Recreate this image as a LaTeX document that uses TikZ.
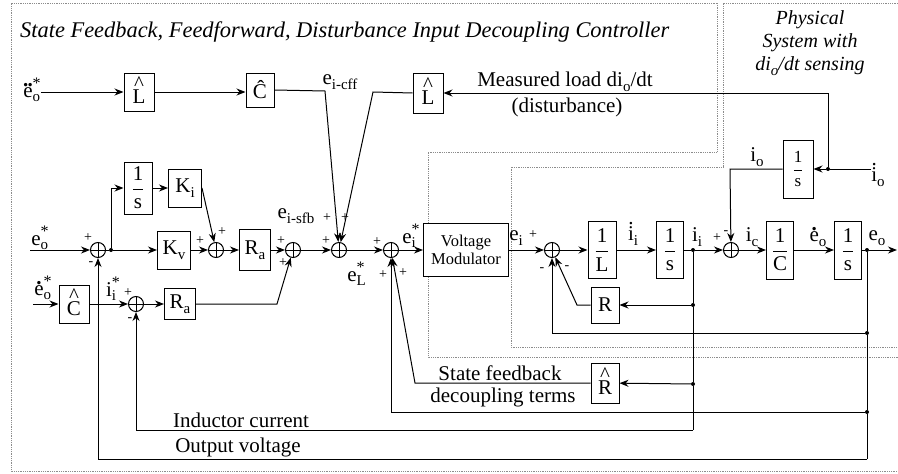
\documentclass[tikz,border=0pt]{standalone}
\usepackage{fontspec}
\setmainfont{Liberation Serif}
\usetikzlibrary{arrows.meta,calc}
\newcommand\sub[1]{\raisebox{-0.22em}{\fontsize{15}{15}\selectfont #1}}
\newcommand\sbsp[2]{\rlap{\sub{#1}}\raisebox{0.42em}{\fontsize{16}{16}\selectfont #2}}
\newcommand\acc[3]{\leavevmode\setbox0\hbox{#2}\rlap{\raisebox{#1}{\hbox to\wd0{\hss#3\hss}}}\box0}
\newcommand\fr[2]{$\displaystyle\frac{\mbox{#1}}{\mbox{#2}}$}
\newcommand\hb[1]{\begin{tabular}{@{}c@{}}\textasciicircum\\[-0.5em]#1\end{tabular}}
\tikzset{
 every node/.style={font=\fontsize{21}{24}\selectfont},
 blk/.style={draw, line width=1pt, inner sep=0pt, fill=white},
 sumj/.style={circle, draw, line width=1pt, minimum size=15pt, inner sep=0pt,
   path picture={\draw[line width=0.9pt] (path picture bounding box.north)--(path picture bounding box.south)
     (path picture bounding box.west)--(path picture bounding box.east);}},
 arr/.style={line width=1pt, -{Stealth[length=9pt,width=7pt]}},
 ln/.style={line width=1pt},
 sgn/.style={font=\fontsize{14}{14}\selectfont, inner sep=0pt},
 lbl/.style={inner sep=0pt},
 bnd/.style={black!45, densely dotted, line width=0.8pt},
 ttl/.style={font=\fontsize{22.4}{25}\selectfont\itshape, inner sep=0pt},
 dotn/.style={circle, fill, inner sep=0pt, minimum size=4pt}
}
\begin{document}
\begin{tikzpicture}[x=1pt,y=-1pt]
\path[use as bounding box, fill=white] (0,0) rectangle (898,474);
% boundaries
\draw[bnd] (717,3) -- (11,3) -- (11,471) -- (898,471);
\draw[bnd] (717,3) -- (717,152) -- (428,152) -- (428,357) -- (898,357);
\draw[bnd] (898,3) -- (723,3) -- (723,167) -- (511,167) -- (511,347) -- (898,347);
% titles
\node[ttl, anchor=west] (title) at (20,32) {State Feedback, Feedforward, Disturbance Input Decoupling Controller};
\node[ttl, align=center, font=\fontsize{20}{23}\selectfont\itshape] (phys) at (810,43) {Physical\\System with\\di\sub{o}/dt sensing};
% top row
\node[lbl] (eddl) at (32,90) {\acc{0.5em}{e}{\textbf{.\kern-0.04em.}}\sbsp{o}{*}};
\node[blk, minimum width=30pt, minimum height=38pt] (Lh1) at (139,92) {\hb{L}};
\node[blk, minimum width=28pt, minimum height=34pt] (Ch1) at (260,90) {\^{C}};
\node[blk, minimum width=30pt, minimum height=40pt] (Lh2) at (428,93) {\hb{L}};
\node[lbl] (ecff) at (340,82) {e\sub{i-cff}};
\node[lbl] (mlt) at (565,82) {Measured load di\sub{o}/dt};
\node[lbl] (dist) at (567,107) {(disturbance)};
% physical 1/s
\node[blk, minimum width=30pt, minimum height=58pt, font=\fontsize{17}{20}\selectfont] (iS4) at (798,169) {\fr{1}{s}};
\node[lbl] (iodl) at (878,175) {\acc{0.75em}{i}{.}\sub{o}};
\node[dotn] (dio) at (828,169) {};
\coordinate (mtop) at (828,93);
\node[lbl] (iol) at (757,157) {i\sub{o}};
\coordinate (iok) at (730,169);
% main row
\node[lbl] (eol) at (40,238) {e\sbsp{o}{*}};
\coordinate (eoin) at (30,250);
\node[sumj] (s1) at (98,250) {};
\node[dotn] (d1) at (111,250) {};
\node[blk, minimum width=28pt, minimum height=52pt] (iS1) at (138,188) {\fr{1}{s}};
\node[blk, minimum width=33pt, minimum height=38pt] (Ki) at (185,188) {K\sub{i}};
\node[blk, minimum width=33pt, minimum height=38pt] (Kv) at (174,250) {K\sub{v}};
\node[sumj] (s2) at (216,250) {};
\node[blk, minimum width=31pt, minimum height=41pt] (Ra1) at (255,250) {R\sub{a}};
\node[sumj] (s3) at (293,250) {};
\node[sumj] (s4) at (339,250) {};
\node[sumj] (s5) at (391,250) {};
\node[blk, minimum width=85pt, minimum height=53pt, align=center, font=\fontsize{16.5}{18}\selectfont] (VM) at (466,250) {Voltage\\Modulator};
\node[sumj] (s7) at (552,250) {};
\node[blk, minimum width=28pt, minimum height=57pt] (invL) at (602,250) {\fr{1}{L}};
\node[blk, minimum width=27pt, minimum height=57pt] (iS2) at (670,250) {\fr{1}{s}};
\node[dotn] (dii) at (693,250) {};
\node[sumj] (s8) at (731,250) {};
\node[blk, minimum width=27pt, minimum height=58pt] (invC) at (780,250) {\fr{1}{C}};
\node[blk, minimum width=27pt, minimum height=58pt] (iS3) at (848,250) {\fr{1}{s}};
\node[dotn] (deo) at (867,250) {};
\coordinate (eoout) at (897,250);
% feedback blocks
\node[blk, minimum width=28pt, minimum height=36pt] (Rp) at (605,305) {R};
\node[blk, minimum width=28pt, minimum height=40pt] (Rh) at (605,383) {\hb{R}};
\node[dotn] (d4) at (693,305) {};
\node[dotn] (d5) at (693,384) {};
\coordinate (iibot) at (693,430);
\node[dotn] (d2) at (867,333) {};
\node[dotn] (d3) at (867,412) {};
\coordinate (eobot) at (867,459);
\coordinate (rpk) at (577,305);
\coordinate (rhk) at (415,383);
% lower left row
\node[lbl] (edl) at (43,288) {\acc{0.5em}{e}{\textbf{.}}\sbsp{o}{*}};
\coordinate (edin) at (33,304);
\node[blk, minimum width=30pt, minimum height=38pt] (Ch2) at (74,304) {\hb{C}};
\node[sumj] (s6) at (136,304) {};
\node[blk, minimum width=31pt, minimum height=31pt] (Ra2) at (180,304) {R\sub{a}};
\coordinate (ra2k) at (277,304);
\coordinate (cffk) at (325,91);
\coordinate (ldk) at (373,92);
% connectors
\draw[arr] (eddl.east |- Lh1) -- (Lh1);
\draw[arr] (Lh1.east) -- (Lh1.east -| Ch1.west);
\draw[arr] (Ch1.east) -- (cffk) -- (s4);
\draw[arr] (Lh2.west) -- (ldk) -- (s4);
\draw[arr] (dio) -- (mtop) -- (Lh2.east |- mtop);
\draw[ln] (iodl.west |- dio) -- (dio);
\draw[arr] (dio) -- (iS4);
\draw[arr] (iS4) -- (iok) -- (s8);
\draw[arr] (eoin) -- (s1);
\draw[ln] (s1) -- (d1);
\draw[arr] (d1) -- (Kv);
\draw[arr] (d1) |- (iS1);
\draw[arr] (iS1) -- (Ki);
\draw[arr] (Ki.east) -- (s2);
\draw[arr] (Kv) -- (s2);
\draw[arr] (s2) -- (Ra1);
\draw[arr] (Ra1) -- (s3);
\draw[arr] (s3) -- (s4);
\draw[arr] (s4) -- (s5);
\draw[arr] (s5) -- (VM);
\draw[arr] (VM) -- (s7);
\draw[arr] (s7) -- (invL);
\draw[arr] (invL) -- (iS2);
\draw[ln] (iS2) -- (dii);
\draw[arr] (dii) -- (s8);
\draw[arr] (s8) -- (invC);
\draw[arr] (invC) -- (iS3);
\draw[ln] (iS3) -- (deo);
\draw[arr] (deo) -- (eoout);
\draw[ln] (deo) -- (d2) -- (d3) -- (eobot);
\draw[arr] (d2) -| (s7);
\draw[arr] (d3) -| (s5);
\draw[arr] (eobot) -| (s1);
\draw[ln] (dii) -- (d4) -- (d5) -- (iibot);
\draw[arr] (iibot) -| (s6);
\draw[arr] (d4) -- (Rp);
\draw[arr] (Rp) -- (rpk) -- (s7);
\draw[arr] (d5) -- (Rh);
\draw[arr] (Rh) -- (rhk) -- (s5);
\draw[arr] (edin) -- (Ch2);
\draw[arr] (Ch2) -- (s6);
\draw[arr] (s6) -- (Ra2);
\draw[arr] (Ra2) -- (ra2k) -- (s3);
% labels
\node[lbl] (eisfb) at (296,216) {e\sub{i-sfb}};
\node[lbl] (eLl) at (356,274) {e\sbsp{L}{*}};
\node[lbl] (eil) at (411,236) {e\sbsp{i}{*}};
\node[lbl] (iisl) at (113,289) {i\sbsp{i}{*}};
\node[lbl] (eipl) at (516,238) {e\sub{i}};
\node[lbl] (iidl) at (633,234) {\acc{0.75em}{i}{.}\sub{i}};
\node[lbl] (iil) at (697,237) {i\sub{i}};
\node[lbl] (icl) at (752,237) {i\sub{c}};
\node[lbl] (eodl) at (818,237) {\acc{0.5em}{e}{\textbf{.}}\sub{o}};
\node[lbl] (eoutl) at (877,238) {e\sub{o}};
\node[lbl] (sfb) at (500,373) {State feedback};
\node[lbl] (dct) at (503,397) {decoupling terms};
\node[lbl] (icur) at (241,420) {Inductor current};
\node[lbl] (ovol) at (238,447) {Output voltage};
% signs
\node[sgn] at (88,238) {+};
\node[sgn] at (91,264) {-};
\node[sgn] at (200,241) {+};
\node[sgn] at (222,232) {+};
\node[sgn] at (281,241) {+};
\node[sgn] at (283,263) {+};
\node[sgn] at (326,241) {+};
\node[sgn] at (327,218) {+};
\node[sgn] at (345,218) {+};
\node[sgn] at (377,242) {+};
\node[sgn] at (383,275) {+};
\node[sgn] at (403,273) {+};
\node[sgn] at (128,293) {+};
\node[sgn] at (130,320) {-};
\node[sgn] at (533,235) {+};
\node[sgn] at (542,270) {-};
\node[sgn] at (567,268) {-};
\node[sgn] at (717,238) {+};
\node[sgn] at (726,233) {-};
\end{tikzpicture}
\end{document}
